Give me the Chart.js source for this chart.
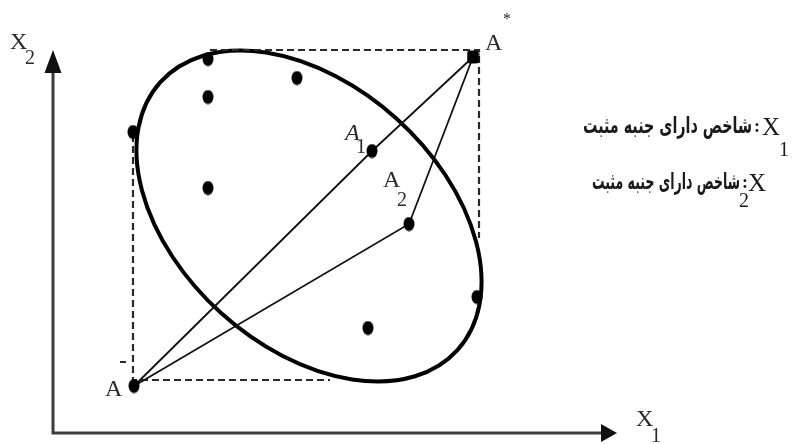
<!DOCTYPE html>
<html>
<head>
<meta charset="utf-8">
<script src="https://cdn.jsdelivr.net/npm/chart.js@4/dist/chart.umd.min.js"></script>
<style>
  html, body { margin: 0; padding: 0; background: #fff; overflow: hidden; }
  #wrap { width: 793px; height: 444px; }
</style>
</head>
<body>
<div id="wrap"><canvas id="c" width="793" height="444"></canvas></div>
<script>
// units are measured from the axes origin
const alternatives = [[155, 374], [244, 355], [155, 336], [80, 301], [155, 245], [424, 136], [315, 105]];
const idealNames = ['A*', 'A-', 'A1', 'A2'];
const idealPoints = [[420, 376], [81, 47], [319, 282], [356, 209]];
const pathA1 = ['A-', 'A1', 'A*'];
const pathA2 = ['A-', 'A2', 'A*'];
const boxLower = [[80, 298], [80, 53], [277, 53]];
const boxUpper = [[157, 383], [426, 383], [426, 195]];
const cloudCenter = [256, 217];
const cloudAxes = [200, 131];
const cloudTilt = 42; // degrees, major axis running down to the right
const xRange = [-53, 740];
const yRange = [-11, 433];
const axisLength = [564, 383]; // X1 axis, X2 axis
const criteria = ['شاخص دارای جنبه مثبت', 'شاخص دارای جنبه مثبت'];

function toXY(p) { return { x: p[0], y: p[1] }; }
function ideal(name) { return toXY(idealPoints[idealNames.indexOf(name)]); }

// blob markers
function blob(w, h, square) {
  const cv = document.createElement('canvas');
  cv.width = w; cv.height = h;
  const g = cv.getContext('2d');
  g.fillStyle = '#000';
  g.beginPath();
  if (square) {
    g.roundRect(0.5, 0.5, w - 1, h - 1, 3);
  } else {
    g.ellipse(w / 2, h / 2, w / 2 - 0.5, h / 2 - 0.5, 0, 0, Math.PI * 2);
  }
  g.fill();
  return cv;
}
const dot = blob(12, 15, false);
const squareDot = blob(13, 14, true);

const lineStyle = {
  showLine: true, pointRadius: 0, borderColor: '#111', borderWidth: 1.8, fill: false
};
const dashStyle = {
  showLine: true, pointRadius: 0, borderColor: '#2a2a2a', borderWidth: 2.2, borderDash: [7, 4], fill: false
};

function sub(ctx, main, s, x, y, dx, dy, opts) {
  opts = opts || {};
  ctx.fillStyle = opts.color || '#2a2a2a';
  ctx.textAlign = 'left';
  ctx.textBaseline = 'alphabetic';
  ctx.font = (opts.italic ? 'italic ' : '') + (opts.size || 24) + 'px "Liberation Serif"';
  ctx.fillText(main, x, y);
  ctx.font = (opts.subSize || 20) + 'px "Liberation Serif"';
  ctx.fillText(s, x + dx, y + dy);
}

const drawing = {
  id: 'drawing',
  beforeDatasetsDraw(chart) {
    const ctx = chart.ctx, sx = chart.scales.x, sy = chart.scales.y;
    const ox = sx.getPixelForValue(0), oy = sy.getPixelForValue(0);
    // axes with arrow heads
    ctx.save();
    ctx.strokeStyle = '#3c3c3c';
    ctx.fillStyle = '#111';
    ctx.lineWidth = 3;
    const tipX = sx.getPixelForValue(axisLength[0]);
    const tipY = sy.getPixelForValue(axisLength[1]);
    ctx.beginPath();
    ctx.moveTo(ox, tipY + 20);
    ctx.lineTo(ox, oy);
    ctx.lineTo(tipX - 16, oy);
    ctx.stroke();
    ctx.beginPath();
    ctx.moveTo(ox, tipY);
    ctx.lineTo(ox - 8.5, tipY + 23);
    ctx.lineTo(ox + 8.5, tipY + 23);
    ctx.closePath();
    ctx.fill();
    ctx.beginPath();
    ctx.moveTo(tipX, oy);
    ctx.lineTo(tipX - 16, oy - 9);
    ctx.lineTo(tipX - 16, oy + 9);
    ctx.closePath();
    ctx.fill();
    // ellipse
    const cx = sx.getPixelForValue(cloudCenter[0]), cy = sy.getPixelForValue(cloudCenter[1]);
    const rx = Math.abs(sx.getPixelForValue(cloudAxes[0]) - sx.getPixelForValue(0));
    const ry = Math.abs(sy.getPixelForValue(cloudAxes[1]) - sy.getPixelForValue(0));
    ctx.strokeStyle = '#000';
    ctx.lineWidth = 4;
    ctx.beginPath();
    ctx.ellipse(cx, cy, rx, ry, cloudTilt * Math.PI / 180, 0, Math.PI * 2);
    ctx.stroke();
    ctx.restore();
  },
  afterDraw(chart) {
    const ctx = chart.ctx, sx = chart.scales.x, sy = chart.scales.y;
    const ox = sx.getPixelForValue(0), oy = sy.getPixelForValue(0);
    const px = n => sx.getPixelForValue(ideal(n).x);
    const py = n => sy.getPixelForValue(ideal(n).y);
    ctx.save();
    // axis titles
    sub(ctx, 'X', '2', ox - 43, sy.getPixelForValue(axisLength[1]) - 1, 15, 15);
    sub(ctx, 'X', '1', sx.getPixelForValue(axisLength[0]) + 19, oy - 7, 15, 16);
    // point labels
    ctx.fillStyle = '#2a2a2a';
    ctx.font = '24px "Liberation Serif"';
    ctx.fillText('A', px('A*') + 12, py('A*') - 7);
    ctx.font = '16px "Liberation Serif"';
    ctx.fillText('*', px('A*') + 30, py('A*') - 33);
    ctx.font = '24px "Liberation Serif"';
    ctx.fillText('A', px('A-') - 29, py('A-') + 10);
    ctx.fillRect(px('A-') - 14, py('A-') - 25, 6, 2);
    sub(ctx, 'A', '1', px('A1') - 27, py('A1') - 11, 11, 13, { italic: true });
    sub(ctx, 'A', '2', px('A2') - 26, py('A2') - 37, 14, 19);
    // criteria notes on the right
    const rows = [
      { base: 133, right: 752, width: 169, xLeft: 762, subDx: 17, subDy: 21, colon: 757, s: '1' },
      { base: 189, right: 740, width: 148, xLeft: 748, subDx: -9, subDy: 16, colon: 745, s: '2' }
    ];
    rows.forEach((r, i) => {
      ctx.fillStyle = '#1a1a1a';
      ctx.font = 'bold 23px "DejaVu Sans"';
      ctx.textAlign = 'right';
      const w = ctx.measureText(criteria[i]).width;
      ctx.save();
      ctx.translate(r.right, r.base);
      ctx.scale(r.width / w, 1);
      ctx.fillText(criteria[i], 0, 0);
      ctx.restore();
      ctx.font = 'bold 18px "Liberation Serif"';
      ctx.textAlign = 'center';
      ctx.fillText(':', r.colon, r.base - 1);
      sub(ctx, 'X', r.s, r.xLeft, r.base + 2, r.subDx, r.subDy, { color: '#1a1a1a', size: 25 });
    });
    ctx.restore();
  }
};

new Chart(document.getElementById('c'), {
  type: 'scatter',
  data: {
    datasets: [
      {
        label: 'alternatives',
        data: alternatives.map(toXY),
        pointStyle: dot, pointRadius: 7, showLine: false
      },
      {
        label: 'ideal solutions',
        data: idealNames.map(ideal),
        pointStyle: idealNames.map(n => n === 'A*' ? squareDot : dot),
        pointRadius: 7, showLine: false
      },
      Object.assign({ label: 'A- A1 A*', data: pathA1.map(ideal) }, lineStyle),
      Object.assign({ label: 'A- A2 A*', data: pathA2.map(ideal) }, lineStyle),
      Object.assign({ label: 'box low', data: boxLower.map(toXY) }, dashStyle),
      Object.assign({ label: 'box high', data: boxUpper.map(toXY) }, dashStyle)
    ]
  },
  options: {
    responsive: false,
    animation: false,
    layout: { padding: 0, autoPadding: false },
    plugins: { legend: { display: false }, tooltip: { enabled: false } },
    scales: {
      x: { type: 'linear', display: false, min: xRange[0], max: xRange[1] },
      y: { type: 'linear', display: false, min: yRange[0], max: yRange[1] }
    }
  },
  plugins: [drawing]
});
</script>
</body>
</html>
